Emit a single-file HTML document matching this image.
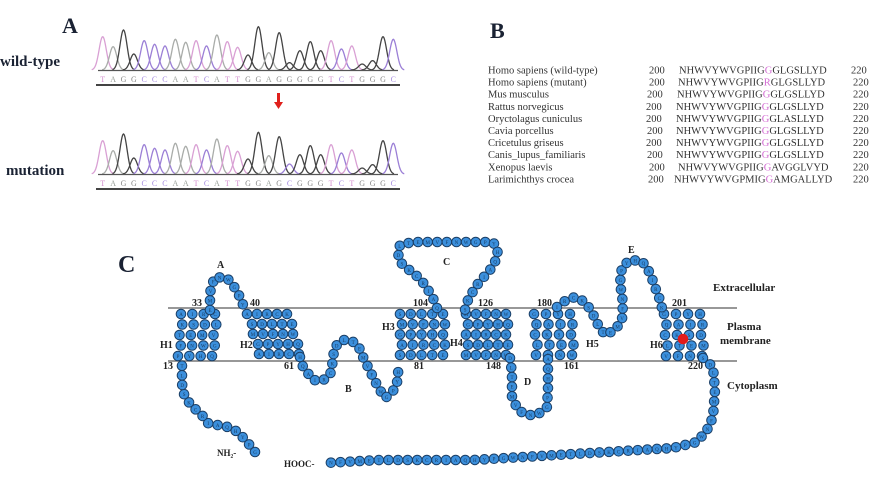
<!DOCTYPE html>
<html><head><meta charset="utf-8">
<style>
html,body{margin:0;padding:0;background:#fff;}
svg{display:block;}
text{font-family:"Liberation Serif",serif;}
</style></head>
<body>
<svg id="s" width="881" height="482" viewBox="0 0 881 482" xmlns="http://www.w3.org/2000/svg">
<rect width="881" height="482" fill="#fff"/>
<text x="62" y="33" font-size="22" font-weight="bold" fill="#1a2233">A</text>
<text x="0" y="66" font-size="15" font-weight="bold" fill="#1a2233">wild-type</text>
<text x="6" y="175" font-size="15" font-weight="bold" fill="#1a2233">mutation</text>
<g id="chrom"></g>
<rect x="277" y="93" width="3" height="10" fill="#e0201c"/>
<polygon points="274,102 283,102 278.5,109" fill="#e0201c"/>
<text x="490" y="38" font-size="22" font-weight="bold" fill="#1a2233">B</text>
<g id="align" font-size="10.5" fill="#333"></g>
<text x="118" y="272" font-size="24" font-weight="bold" fill="#1a2233">C</text>
<line x1="168" y1="308" x2="737" y2="308" stroke="#777" stroke-width="1.5"/>
<line x1="168" y1="361" x2="737" y2="361" stroke="#777" stroke-width="1.5"/>
<g id="prot"></g>
<g font-size="10" font-weight="bold" fill="#222">
<text x="217" y="268">A</text><text x="345" y="392">B</text><text x="443" y="265">C</text>
<text x="524" y="385">D</text><text x="628" y="253">E</text>
<text x="160" y="348">H1</text><text x="240" y="348">H2</text><text x="382" y="330">H3</text>
<text x="450" y="346">H4</text><text x="586" y="347">H5</text><text x="650" y="348">H6</text>
<text x="192" y="306">33</text><text x="250" y="306">40</text><text x="413" y="306">104</text>
<text x="478" y="306">126</text><text x="537" y="306">180</text><text x="672" y="306">201</text>
<text x="163" y="369">13</text><text x="284" y="369">61</text><text x="414" y="369">81</text>
<text x="486" y="369">148</text><text x="564" y="369">161</text><text x="688" y="369">220</text>
<text x="713" y="291" font-size="11">Extracellular</text>
<text x="727" y="330" font-size="11">Plasma</text>
<text x="720" y="344" font-size="11">membrane</text>
<text x="727" y="389" font-size="11">Cytoplasm</text>
<text x="217" y="456" font-size="9">NH₂-</text>
<text x="284" y="467" font-size="9">HOOC-</text>
</g>
</svg>
<script>
const NS="http://www.w3.org/2000/svg";
function el(p,t,a,txt){const e=document.createElementNS(NS,t);for(const k in a)e.setAttribute(k,a[k]);if(txt!=null)e.textContent=txt;p.appendChild(e);return e;}
const seq="TAGGCCCAATCATTGGAGGGGGTCTGGGC";
const hz=[100,70,120,48,88,77,72,92,83,88,72,105,85,68,45,130,52,112,22,58,85,58,88,63,72,18,28,100,92];
const col={T:"#d9a0d4",A:"#a9aca9",G:"#444",C:"#9b7fd6"};
const tcol={T:"#d48fcf",A:"#9aa09a",G:"#888",C:"#a58ae0"};
const ch=document.getElementById("chrom");
function trace(base,heights,letters){
  for(let i=0;i<letters.length;i++){
    const x0=102.7+i*10.38, h=base-heights[i]/3, L=letters[i];
    let d="";
    for(let k=-11;k<=11;k+=0.5){const x=x0+k;const y=base-(base-h)*Math.exp(-(k*k)/(2*3.6*3.6));d+=(k==-11?"M":"L")+x.toFixed(1)+","+y.toFixed(1);}
    el(ch,"path",{d:d,fill:"none",stroke:col[L],"stroke-width":1.3});
    el(ch,"text",{x:x0,y:base+12,"font-size":8,"text-anchor":"middle",fill:tcol[L],"font-family":"Liberation Sans,sans-serif"},L);
  }
  el(ch,"line",{x1:98,y1:base+0.5,x2:398,y2:base+0.5,stroke:"#555","stroke-width":1.2});
  el(ch,"line",{x1:96,y1:base+15,x2:400,y2:base+15,stroke:"#444","stroke-width":2});
}
trace(70,hz,seq);
const seq2=seq.substring(0,18)+"C"+seq.substring(19);
const hz2=hz.slice(); hz2[18]=30; hz2[15]=125; hz2[16]=55;
trace(174,hz2,seq2);
const rows=[["Homo sapiens (wild-type)","NHWVYWVGPIIG","G","GLGSLLYD"],["Homo sapiens (mutant)","NHWVYWVGPIIG","R","GLGSLLYD"],["Mus musculus","NHWVYWVGPIIG","G","GLGSLLYD"],["Rattus norvegicus","NHWVYWVGPIIG","G","GLGSLLYD"],["Oryctolagus cuniculus","NHWVYWVGPIIG","G","GLASLLYD"],["Cavia porcellus","NHWVYWVGPIIG","G","GLGSLLYD"],["Cricetulus griseus","NHWVYWVGPIIG","G","GLGSLLYD"],["Canis_lupus_familiaris","NHWVYWVGPIIG","G","GLGSLLYD"],["Xenopus laevis","NHWVYWVGPIIG","G","AVGGLVYD"],["Larimichthys crocea","NHWVYWVGPMIG","G","AMGALLYD"]];
const al=document.getElementById("align");
const sx=[679,678,677,676,676,676,676,676,678,674],nx=[649,649,647,646,646,647,646,647,649,648];
rows.forEach((r,i)=>{const y=73.5+i*12.1;
 el(al,"text",{x:488,y:y},r[0]);
 el(al,"text",{x:nx[i],y:y},"200");
 const t=el(al,"text",{x:sx[i],y:y,"font-size":10.5});
 const a=document.createElementNS(NS,"tspan");a.textContent=r[1];t.appendChild(a);
 const b=document.createElementNS(NS,"tspan");b.textContent=r[2];b.setAttribute("fill","#d36bd3");t.appendChild(b);
 const c=document.createElementNS(NS,"tspan");c.textContent=r[3];t.appendChild(c);
 el(al,"text",{x:i==0?851:853,y:y},"220");
});
const pg=document.getElementById("prot");
const aa="ACDEFGHIKLMNPQRSTVWY";let ai=0;
function bead(x,y,red){
 el(pg,"circle",{cx:x,cy:y,r:4.8,fill:red?"#e21b1b":"#3b8fdc",stroke:red?"#e21b1b":"#1b3f66","stroke-width":1});
 if(!red)el(pg,"text",{x:x,y:y+2,"font-size":5,"text-anchor":"middle",fill:"#173a5e","font-family":"Liberation Sans,sans-serif"},aa[(ai++*7)%20]);
}
function chain(pts,step){step=step||9.6;let acc=0;let out=[[pts[0][0],pts[0][1]]];
 for(let i=1;i<pts.length;i++){const[x0,y0]=pts[i-1],[x1,y1]=pts[i];const L=Math.hypot(x1-x0,y1-y0);let d=step-acc;
  while(d<=L){out.push([x0+(x1-x0)*d/L,y0+(y1-y0)*d/L]);d+=step;}acc=L-(d-step);}
 out.forEach(p=>bead(p[0],p[1]));}
function block(x0,x1,y0,y1,shift,nr,nc){for(let r=0;r<nr;r++){const y=y0+(y1-y0)*r/(nr-1);const s=shift*r/(nr-1);
 for(let c=0;c<nc;c++){const x=x0+s+(x1-x0)*c/(nc-1)+(r%2?2:0);bead(x,y);}}}
block(181,215,314,356,-3,5,4);
block(247,287,314,354,12,5,5);
block(400,443,314,355,0,5,5);
block(466,506,314,355,0,5,5);
block(534,570,314,355,2,5,4);
block(664,700,314,356,2,5,4);
bead(683,339,true);
chain([[255,452],[248,443],[238,432],[228,427],[207,423],[202,415],[193,407],[187,400],[183,392],[182,383],[182,373],[182,362]]);
chain([[210,310],[210,293],[212,285],[215,277],[227,278],[233,285],[238,293],[242,302],[245,310]]);
chain([[300,357],[302,365],[307,372],[313,380],[322,381],[330,375],[332,367],[333,357],[335,347],[342,340],[350,340],[358,345],[363,357],[368,367],[373,377],[378,387],[385,398],[392,393],[397,383],[398,373],[400,363]]);
chain([[437,308],[435,302],[430,293],[425,285],[418,277],[408,269],[400,262],[398,253],[400,245],[413,242],[493,242],[498,250],[495,262],[490,270],[483,278],[477,285],[472,293],[467,302],[465,310]]);
chain([[510,358],[512,373],[512,397],[518,410],[527,415],[537,415],[547,407],[548,390],[548,370],[548,358]]);
chain([[557,307],[565,301],[575,297],[585,302],[592,312],[597,323],[605,335],[615,330],[622,320],[623,303],[620,283],[622,267],[630,260],[642,261],[650,273],[655,287],[660,300],[662,308]]);
chain([[703,358],[713,367],[715,390],[713,417],[707,430],[697,442],[673,448],[607,452],[540,456],[473,460],[420,460],[380,460],[325,463]]);
</script>
</body></html>
